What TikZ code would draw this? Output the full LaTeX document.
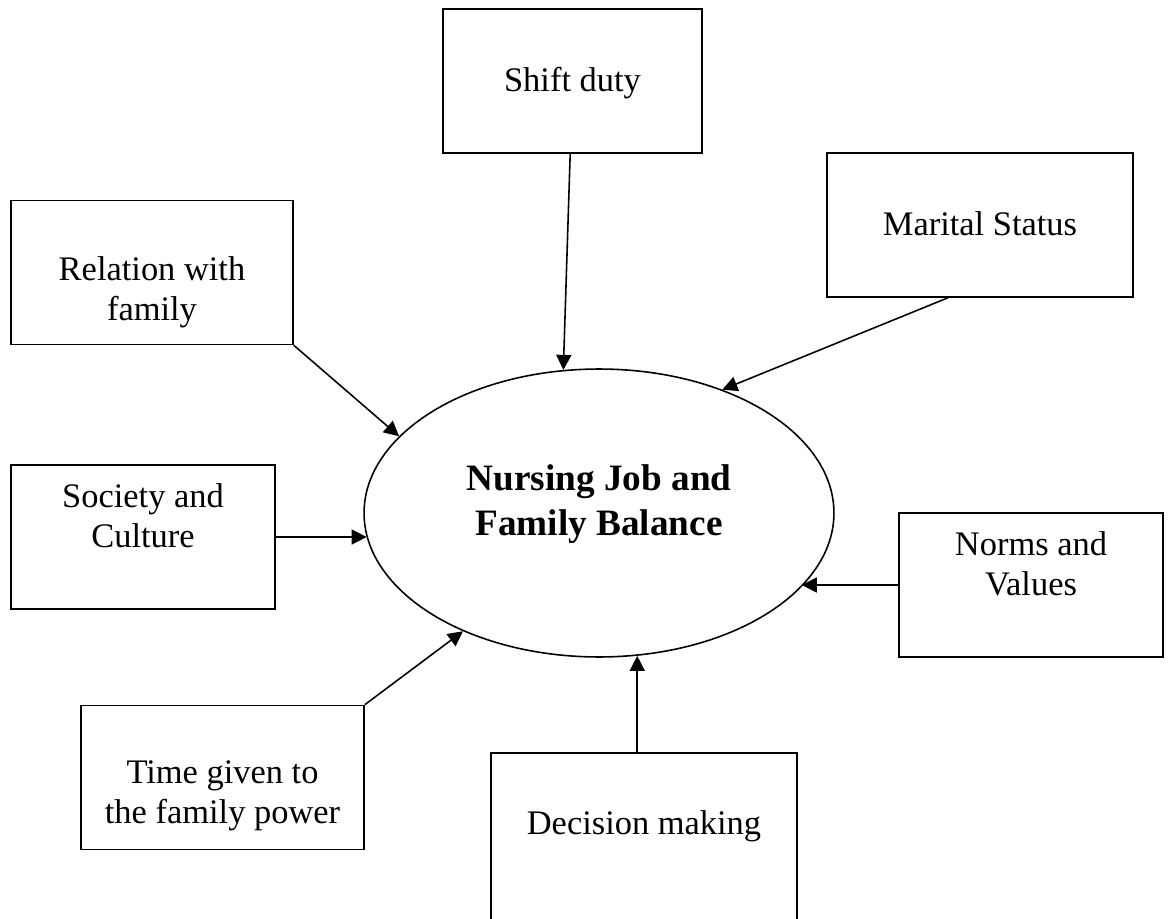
\documentclass[tikz,border=0pt]{standalone}
\usepackage{fontspec}
\setmainfont{Liberation Serif}
\usetikzlibrary{positioning,shapes.geometric,arrows.meta}
\def\boxh{2.88cm}

\begin{document}
\begin{tikzpicture}[x=0.02cm,y=-0.02cm,->,>={Triangle[length=0.3cm,width=0.3cm]},line width=0.9pt]
    \tikzstyle{factor}=[rectangle,draw,inner sep=0pt,minimum height=\boxh]
    \tikzstyle{annot}=[align=center,inner sep=0pt,font=\fontsize{19.6pt}{22.8pt}\selectfont]
    \tikzstyle{balance}=[ellipse,draw,inner sep=0pt,minimum width=9.4cm,minimum height=5.76cm]

    \useasboundingbox (0,0) rectangle (1171,919);

    % The central ellipse
    \node[balance] (bal) at (599,513) {};
    \node[annot,font=\fontsize{21.2pt}{25.6pt}\selectfont\bfseries,below=1.92cm of bal.north] (bal-t) {Nursing Job and\\Family Balance};

    % The factor boxes around it
    \node[factor,minimum width=5.18cm] (shift) at (572.5,81) {};
    \node[factor,minimum width=6.12cm] (marital) at (980,225) {};
    \node[factor,minimum width=5.64cm] (rel) at (152,272.5) {};
    \node[factor,minimum width=5.28cm] (soc) at (143,537) {};
    \node[factor,minimum width=5.66cm] (time) at (222.5,777.5) {};
    \node[factor,minimum width=6.12cm,minimum height=4cm] (dec) at (644,853) {};
    \node[factor,minimum width=5.28cm] (norms) at (1031,585) {};

    % Labels, hung from the top of each box
    \node[annot,below=1.16cm of shift.north] (shift-t) {Shift duty};
    \node[annot,below=1.18cm of marital.north] (marital-t) {Marital Status};
    \node[annot,below=1.12cm of rel.north] (rel-t) {Relation with\\family};
    \node[annot,below=0.38cm of soc.north] (soc-t) {Society and\\Culture};
    \node[annot,below=1.10cm of time.north] (time-t) {Time given to\\the family power};
    \node[annot,below=1.16cm of dec.north] (dec-t) {Decision making};
    \node[annot,below=0.38cm of norms.north] (norms-t) {Norms and\\Values};

    % Every box points at the ellipse
    \path (shift) edge (bal.104);
    \path ([xshift=-0.64cm]marital.south) edge (bal.45);
    \path (rel.south east) edge (bal.159);
    \path (soc.east) edge (soc.east -| bal.186);
    \path (time.north east) edge (bal.221);
    \path (norms.west) edge (norms.west -| bal.340);
    \path (dec.north -| bal.285) edge (bal.285);
\end{tikzpicture}
\end{document}
